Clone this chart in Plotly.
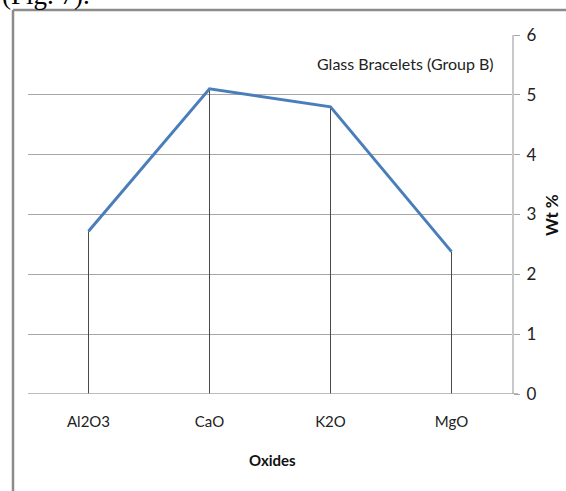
import plotly.graph_objects as go

# Oxide composition, glass bracelets (group B)
oxides = ["Al2O3", "CaO", "K2O", "MgO"]
wt_percent = [2.72, 5.1, 4.8, 2.38]
y_ticks = [0, 1, 2, 3, 4, 5, 6]

W, H = 566, 491
L, R, T, B = 28, 54, 35, 97

FAMILY = "Lato, 'Open Sans', sans-serif"
label_font = dict(family=FAMILY, size=15, color="#222222")

# vertical drop lines from each point to the category axis
drop_x, drop_y = [], []
for name, v in zip(oxides, wt_percent):
    drop_x += [name, name, None]
    drop_y += [0, v, None]

fig = go.Figure()
fig.add_trace(go.Scatter(
    x=drop_x, y=drop_y, mode="lines",
    line=dict(color="#4a4a4a", width=1),
    hoverinfo="skip", showlegend=False,
))
fig.add_trace(go.Scatter(
    x=oxides, y=wt_percent, mode="lines",
    line=dict(color="#4a7ebb", width=3),
    showlegend=False,
))

fig.update_layout(
    width=W, height=H,
    margin=dict(l=L, r=R, t=T, b=B, pad=0),
    paper_bgcolor="white", plot_bgcolor="white",
    font=label_font,
    xaxis=dict(
        type="category", range=[-0.5, 3.5],
        showgrid=False, zeroline=False,
        showline=False, ticks="",
        tickfont=label_font, ticklabelstandoff=17,
    ),
    yaxis=dict(
        side="right", range=[0, 6],
        tickvals=y_ticks,
        showgrid=True, gridcolor="#a6a6a6", gridwidth=1,
        zeroline=False,
        showline=True, linecolor="#c8c8c8", linewidth=2,
        ticks="outside", ticklen=6, tickcolor="#a6a6a6",
        tickfont=dict(family=FAMILY, size=17, color="#222222"),
        ticklabelstandoff=3,
    ),
)

plot_w = W - L - R
plot_h = H - T - B

def px_x(px):
    return (px - L) / plot_w

def px_y(py):
    return (H - B - py) / plot_h

# category axis baseline, extended slightly past the value axis
fig.add_shape(type="line", xref="paper", yref="y",
              x0=0, x1=px_x(518), y0=0, y1=0,
              line=dict(color="#a6a6a6", width=1.5))

# outer frame of the chart area
fig.add_shape(type="line", xref="paper", yref="paper",
              x0=px_x(13), x1=px_x(13), y0=px_y(10), y1=px_y(H + 5),
              line=dict(color="#8c8c8c", width=2.5))
fig.add_shape(type="line", xref="paper", yref="paper",
              x0=px_x(13), x1=px_x(W + 5), y0=px_y(10), y1=px_y(10),
              line=dict(color="#8c8c8c", width=2.5))

fig.add_annotation(text="Glass Bracelets (Group B)", xref="paper", yref="paper",
                   x=px_x(405), y=px_y(63), xanchor="center", yanchor="middle",
                   showarrow=False,
                   font=dict(family=FAMILY, size=16, color="#222222"))
fig.add_annotation(text="<b>Wt %</b>", xref="paper", yref="paper",
                   x=px_x(551), y=px_y(215), xanchor="center", yanchor="middle",
                   textangle=-90, showarrow=False,
                   font=dict(family=FAMILY, size=17, color="#111111"))
fig.add_annotation(text="<b>Oxides</b>", xref="paper", yref="paper",
                   x=px_x(272), y=px_y(460), xanchor="center", yanchor="middle",
                   showarrow=False,
                   font=dict(family=FAMILY, size=15, color="#111111"))
fig.add_annotation(text="(Fig. 7).", xref="paper", yref="paper",
                   x=px_x(0), y=px_y(12), xanchor="left", yanchor="bottom",
                   showarrow=False,
                   font=dict(family="'Liberation Serif', serif", size=27, color="#000000"))

fig.write_html("out.html")
